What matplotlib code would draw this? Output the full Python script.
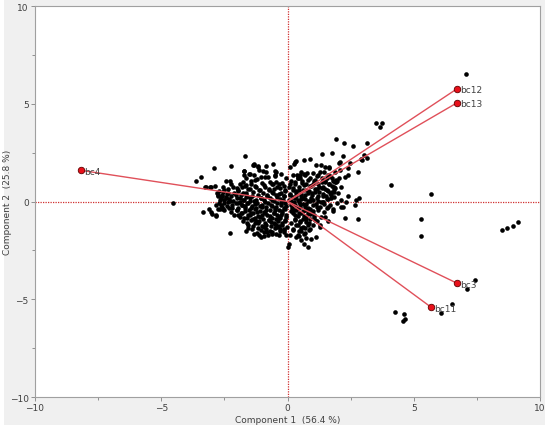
#!/usr/bin/env python3
import matplotlib
matplotlib.use("Agg")
import matplotlib.pyplot as plt
from matplotlib.patches import Rectangle
from matplotlib.ticker import MultipleLocator
import numpy as np

# loading vectors (component 1, component 2)
load_names = ["bc4", "bc12", "bc13", "bc3", "bc11"]
load_c1 = [-8.16, 6.73, 6.73, 6.73, 5.70]
load_c2 = [1.59, 5.78, 5.06, -4.19, -5.42]

# scores
scores = [
    # left lobe
    (-2.8, 0.45), (-2.75, 0.3), (-2.7, 0.55), (-2.65, 0.2), (-2.6, 0.35), (-2.55, 0.5),
    (-2.5, 0.1), (-2.45, 0.25), (-2.4, 0.4), (-2.35, -0.05), (-2.3, 0.15), (-2.25, 0.3),
    (-2.2, -0.2), (-2.15, 0.05), (-2.1, 0.45), (-2.05, -0.1), (-2.0, 0.2), (-1.95, -0.35),
    (-1.9, 0.0), (-1.85, 0.35), (-1.8, -0.2), (-1.75, 0.1), (-1.7, -0.5), (-1.65, 0.25),
    (-1.6, -0.1), (-1.55, -0.7), (-1.5, 0.05), (-1.45, -0.35), (-1.4, 0.3), (-1.35, -0.9),
    (-1.3, -0.15), (-1.25, 0.1), (-1.2, -0.55), (-1.15, -1.1), (-1.1, -0.25), (-1.05, 0.2),
    (-1.0, -0.7), (-0.95, -1.3), (-0.9, -0.05), (-0.85, -0.45), (-0.8, 0.35), (-0.75, -0.95),
    (-0.7, -1.5), (-0.65, -0.2), (-0.6, 0.1), (-0.55, -0.6), (-0.5, -1.15), (-0.45, -0.3),
    (-0.4, 0.25), (-0.35, -0.8), (-0.3, -1.4), (-0.25, -0.1), (-0.2, -0.5), (-0.15, 0.3),
    (-0.1, -1.0), (-0.05, -0.25),
    (-2.7, -0.1), (-2.6, -0.3), (-2.5, -0.45), (-2.3, -0.35), (-2.25, -0.55), (-2.1, -0.7),
    (-2.0, -0.45), (-1.9, -0.8), (-1.85, -0.6), (-1.75, -1.0), (-1.7, -0.25), (-1.6, -0.85),
    (-1.55, -1.2), (-1.45, -0.6), (-1.4, -1.4), (-1.3, -0.4), (-1.25, -1.0), (-1.2, -1.6),
    (-1.1, -0.8), (-1.05, -1.45), (-1.0, -0.3), (-0.95, -1.75), (-0.9, -0.6), (-0.85, -1.2),
    (-0.8, -1.55), (-0.7, -0.75), (-0.65, -1.05), (-0.6, -1.65), (-0.5, -0.45), (-0.45, -0.9),
    (-0.4, -1.3), (-0.35, -1.7), (-0.25, -0.7), (-0.2, -1.2), (-0.15, -1.55), (-0.1, -0.4),
    (-0.05, -0.8), (-0.02, -1.3),
    # dense core, left lobe
    (-1.9, 0.92), (-1.45, 0.88), (-1.02, 0.93), (-0.62, 0.87), (-0.33, 0.9),
    (-2.15, 0.74), (-1.68, 0.77), (-1.25, 0.72), (-0.88, 0.76), (-0.4, 0.73), (-0.15, 0.78),
    (-2.5, 0.61), (-1.98, 0.58), (-1.55, 0.62), (-1.12, 0.57), (-0.73, 0.6), (-0.52, 0.63),
    (-0.08, 0.59), (-2.35, 0.46), (-1.78, 0.43), (-1.38, 0.47), (-0.96, 0.44), (-0.58, 0.46),
    (-0.27, 0.43), (-2.6, 0.29), (-2.02, 0.32), (-1.62, 0.28), (-1.18, 0.31), (-0.82, 0.29),
    (-0.44, 0.33), (-0.12, 0.28), (-2.42, 0.19), (-1.88, 0.16), (-1.48, 0.2), (-1.05, 0.17),
    (-0.68, 0.19), (-0.3, 0.15), (-2.28, 0.04), (-1.72, 0.07), (-1.33, 0.03), (-0.92, 0.06),
    (-0.55, 0.04), (-0.18, 0.07), (-2.52, -0.07), (-1.95, -0.09), (-1.58, -0.06), (-1.2, -0.1),
    (-0.78, -0.07), (-0.4, -0.09), (-0.08, -0.06), (-2.38, -0.21), (-1.82, -0.19),
    (-1.4, -0.22), (-1.0, -0.18), (-0.62, -0.21), (-0.25, -0.19), (-2.18, -0.33),
    (-1.68, -0.31), (-1.25, -0.34), (-0.86, -0.3), (-0.48, -0.33), (-0.12, -0.31),
    (-2.0, -0.46), (-1.52, -0.44), (-1.1, -0.47), (-0.7, -0.43), (-0.33, -0.46),
    (-1.8, -0.57), (-1.35, -0.6), (-0.95, -0.56), (-0.55, -0.59), (-0.2, -0.57),
    (-1.98, -0.71), (-1.5, -0.68), (-1.18, -0.72), (-0.8, -0.69), (-0.42, -0.71),
    (-0.06, -0.68), (-1.72, -0.86), (-1.3, -0.83), (-0.98, -0.87), (-0.6, -0.84),
    (-0.28, -0.86), (-1.45, -0.97), (-1.12, -1.0), (-0.75, -0.96), (-0.38, -0.99),
    (-0.1, -0.97), (-1.62, -1.11), (-1.28, -1.08), (-0.9, -1.12), (-0.52, -1.09),
    (-0.22, -1.11), (-1.38, -1.24), (-1.0, -1.27), (-0.65, -1.23), (-0.32, -1.26),
    (-1.15, -1.37), (-0.85, -1.4), (-0.48, -1.36), (-0.15, -1.39), (-0.95, -1.54),
    (-0.62, -1.57), (-0.3, -1.53), (-0.78, -1.69), (-0.45, -1.66),
    # upper part of left lobe
    (-2.9, 1.69), (-2.23, 1.81), (-1.7, 2.32), (-3.26, 0.75), (-3.05, 0.75), (-2.89, 0.8),
    (-2.43, 1.06), (-2.26, 1.06), (-1.74, 1.57), (-1.74, 1.35), (-1.37, 1.86), (-1.31, 1.94),
    (-1.18, 1.77), (-1.14, 1.6), (-1.54, 1.4), (-0.84, 1.83), (-0.84, 1.52), (-0.48, 1.57),
    (-0.05, 1.21), (-1.3, 1.1), (-1.45, 1.05), (-1.2, 1.15), (-1.04, 1.26), (-0.91, 1.26),
    (-1.77, 1.0), (-1.79, 0.75), (-0.71, 1.0), (-0.58, 0.92), (-0.45, 1.0), (-1.64, 0.83),
    (-1.5, 0.66), (-2.56, 0.75), (-2.36, 0.66), (-2.0, 0.7), (-1.3, 0.8), (-1.1, 0.6),
    (-0.95, 0.85), (-0.75, 0.65), (-0.6, 0.5), (-0.3, 0.7), (-0.2, 0.95), (-0.1, 0.55),
    (-0.35, 0.4), (-1.95, 0.55), (-1.65, 0.45), (-0.5, 1.3), (-0.25, 1.4),
    (-1.33, 1.89), (-1.17, 1.82), (-0.58, 1.94), (-0.45, 1.52), (-0.49, 1.35), (-1.73, 1.55),
    (-1.5, 1.43), (-1.31, 1.35), (-1.64, 1.18), (-0.98, 1.55), (-0.78, 1.26), (-2.23, 0.92),
    (-3.22, 0.75), (-3.02, 0.75),
    # left outliers
    (-3.64, 1.06), (-3.42, 1.23), (-3.33, -0.56), (-3.0, -0.66), (-2.85, -0.73), (-2.27, -1.59),
    (-1.64, -1.5), (-1.11, -1.72), (-1.04, -1.8), (-4.54, -0.1), (-2.82, -0.19), (-2.69, -0.36),
    (-2.56, -0.36), (-2.76, 0.32), (-2.69, 0.07), (-2.65, -0.19), (-2.76, -0.36),
    (-3.02, -0.53), (-2.83, -0.7), (-3.09, -0.36), (-1.57, -1.38), (-1.31, -1.64),
    (-0.45, -1.21), (-0.12, -1.47), (-0.05, -1.72),
    # right lobe
    (0.05, 0.1), (0.1, 0.4), (0.15, -0.2), (0.2, 0.7), (0.25, 0.0), (0.3, 1.0), (0.35, 0.3),
    (0.4, -0.35), (0.45, 0.6), (0.5, 1.2), (0.55, 0.15), (0.6, -0.5), (0.65, 0.85), (0.7, 0.35),
    (0.75, -0.15), (0.8, 1.1), (0.85, 0.55), (0.9, -0.4), (0.95, 0.2), (1.0, 0.9), (1.05, -0.7),
    (1.1, 0.5), (1.15, 1.3), (1.2, 0.05), (1.25, 0.75), (1.3, -0.3), (1.35, 1.0), (1.4, 0.4),
    (1.45, -0.55), (1.5, 0.65), (1.55, 1.2), (1.6, 0.15), (1.65, 0.9), (1.7, -0.2), (1.75, 0.5),
    (1.8, 1.05), (1.85, 0.25), (1.9, 0.7), (1.95, -0.1), (2.0, 0.45), (2.05, 1.2), (2.1, 0.1),
    (0.08, 0.9), (0.12, -0.5), (0.22, 0.25), (0.28, -0.7), (0.32, 0.55), (0.38, 1.35),
    (0.42, 0.1), (0.48, -0.15), (0.52, 0.4), (0.58, 0.95), (0.62, 0.2), (0.68, -0.3),
    (0.72, 0.6), (0.78, 1.45), (0.82, 0.05), (0.88, 0.8), (0.92, -0.6), (0.98, 0.45),
    (1.02, 0.1), (1.08, 1.1), (1.12, -0.15), (1.18, 0.65), (1.22, 0.3), (1.28, 1.5),
    (1.32, -0.8), (1.38, 0.7), (1.42, 0.0), (1.48, 1.0), (1.52, 0.3), (1.58, -0.35),
    (1.62, 0.55), (1.68, 1.3), (1.72, 0.2), (1.78, 0.8), (1.82, -0.5), (1.88, 1.0),
    # dense core, right lobe
    (0.55, 1.51), (1.0, 1.48), (1.45, 1.53), (1.9, 1.49), (0.22, 1.36), (0.7, 1.33),
    (1.2, 1.37), (1.62, 1.34), (0.4, 1.21), (0.88, 1.18), (1.35, 1.22), (1.78, 1.19),
    (0.12, 1.06), (0.58, 1.03), (1.05, 1.07), (1.5, 1.04), (1.95, 1.06), (0.3, 0.91),
    (0.75, 0.88), (1.22, 0.92), (1.65, 0.89), (0.05, 0.76), (0.45, 0.73), (0.92, 0.77),
    (1.4, 0.74), (1.85, 0.76), (0.2, 0.61), (0.62, 0.58), (1.08, 0.62), (1.55, 0.59),
    (0.35, 0.46), (0.8, 0.44), (1.25, 0.47), (1.7, 0.43), (0.08, 0.31), (0.52, 0.28),
    (0.98, 0.32), (1.42, 0.29), (0.28, 0.16), (0.7, 0.13), (1.15, 0.17), (1.58, 0.14),
    (0.12, 0.01), (0.45, -0.02), (0.88, 0.02), (1.32, -0.01), (0.3, -0.16), (0.6, -0.13),
    (1.02, -0.17), (1.45, -0.14), (0.18, -0.31), (0.5, -0.28), (0.82, -0.32), (1.18, -0.29),
    (0.35, -0.46), (0.7, -0.43), (1.0, -0.47), (0.22, -0.61), (0.55, -0.58), (0.88, -0.62),
    (0.4, -0.76), (0.72, -0.73), (1.05, -0.77), (0.3, -0.91), (0.6, -0.88), (0.9, -0.92),
    (0.48, -1.06), (0.72, -1.03), (0.35, -1.21), (0.8, -1.18), (0.52, -1.36), (0.68, -1.33),
    (0.45, -1.51), (0.85, -1.48),
    # upper right scatter
    (0.9, 2.16), (0.34, 2.06), (0.09, 1.74), (0.25, 1.91), (2.19, 2.32), (2.02, 1.98),
    (2.46, 1.98), (2.81, 1.52), (2.39, 1.38), (2.06, 1.6), (1.93, 1.01), (1.86, 0.66),
    (1.14, 1.86), (1.47, 1.77), (1.66, 1.69), (0.67, 1.43), (0.48, 1.35), (0.41, 1.18),
    (1.93, 3.22), (2.22, 3.0), (2.59, 2.83), (3.16, 3.0), (1.37, 2.44), (1.77, 2.49),
    (3.01, 2.4), (2.92, 2.16), (2.97, 2.1), (3.16, 2.24), (3.49, 4.04), (3.73, 4.0),
    (3.67, 3.8), (0.28, 2.03), (0.67, 2.11), (1.33, 1.86), (1.66, 1.77), (2.06, 2.03),
    (2.39, 1.69), (2.26, 1.26), (1.93, 1.09), (2.13, 0.75), (1.86, 0.49), (1.73, 0.32),
    # mid right scatter
    (2.72, 0.07), (2.85, 0.2), (2.68, -0.19), (2.19, -0.27), (2.26, -0.82), (2.81, -0.87),
    (1.6, -0.99), (1.27, -1.29), (2.4, 0.3), (2.3, -0.05), (1.07, -0.95), (1.27, -1.21),
    (1.47, -0.78), (1.8, -0.36), (2.13, -0.27), (1.4, -0.02), (1.6, -0.27),
    # lower extension
    (0.04, -2.15), (0.67, -2.15), (0.8, -2.32), (1.11, -1.81), (0.34, -1.81), (0.47, -1.74),
    (0.5, -1.0), (0.6, -1.3), (0.7, -1.6), (0.85, -1.1), (0.9, -1.4), (0.75, -0.9),
    (0.55, -1.5), (0.95, -1.9), (1.0, -1.2), (0.4, -1.2), (0.3, -0.95), (0.2, -1.4),
    (0.1, -1.7), (0.15, -1.1), (0.65, -0.75), (0.45, -0.6), (0.25, -0.45), (1.15, -1.0),
    (0.8, -0.6), (1.2, -0.45), (0.21, -1.47), (0.41, -1.72), (0.67, -1.64), (0.54, -1.98),
    (0.74, -1.89), (0.01, -2.32),
    # far right
    (7.05, 6.51), (4.11, 0.83), (5.70, 0.37), (5.27, -0.88), (5.30, -1.77), (8.50, -1.47),
    (8.69, -1.33), (8.92, -1.24), (9.14, -1.06), (7.42, -4.01), (7.09, -4.47), (6.51, -5.22),
    (6.09, -5.69), (4.25, -5.66), (4.62, -5.74), (4.67, -6.02), (4.58, -6.12),
    (6.73, 5.78), (6.73, 5.06), (6.73, -4.19), (5.70, -5.42),
]
comp1 = np.array([p[0] for p in scores])
comp2 = np.array([p[1] for p in scores])

fig = plt.figure(figsize=(5.5, 4.31), dpi=100)
fig.patches.append(Rectangle((0.007, 0.012), 0.984, 0.988, transform=fig.transFigure,
                             facecolor="#f0f0f0", edgecolor="none", zorder=-5))
ax = fig.add_axes([35/550, 1-398/431, 505/550, 391/431])
ax.set_facecolor("white")

ax.axvline(0, color="#d03030", lw=0.9, ls=(0, (1, 1)), zorder=1)
ax.axhline(0, color="#d03030", lw=0.9, ls=(0, (1, 1)), zorder=1)

ax.scatter(comp1, comp2, s=11, color="black", zorder=2, linewidths=0)

for name, lx, ly in zip(load_names, load_c1, load_c2):
    ax.plot([0, lx], [0, ly], color="#e0505a", lw=1.0, zorder=3)
    ax.scatter([lx], [ly], s=22, color="#e8101a", edgecolors="#600000", linewidths=0.6, zorder=4)
    ax.text(lx + 0.12, ly - 0.05, name, fontsize=6.5, color="#404040", va="center", ha="left",
            zorder=5)

ax.set_xlim(-10, 10)
ax.set_ylim(-10, 10)
ax.xaxis.set_major_locator(MultipleLocator(5))
ax.yaxis.set_major_locator(MultipleLocator(5))
ax.xaxis.set_minor_locator(MultipleLocator(2.5))
ax.yaxis.set_minor_locator(MultipleLocator(2.5))
ax.tick_params(which="both", colors="#808080", labelcolor="#404040", labelsize=6.5,
               length=3, width=0.6, pad=1.5)
ax.tick_params(which="minor", length=2)
for s in ax.spines.values():
    s.set_color("#a0a0a0")
    s.set_linewidth(0.8)

ax.set_xlabel("Component 1  (56.4 %)", fontsize=6.5, color="#404040", labelpad=2)
ax.set_ylabel("Component 2  (25.8 %)", fontsize=6.5, color="#404040")
ax.yaxis.set_label_coords(-0.045, 0.5)

fig.savefig("out.png", dpi=100, facecolor="white")
